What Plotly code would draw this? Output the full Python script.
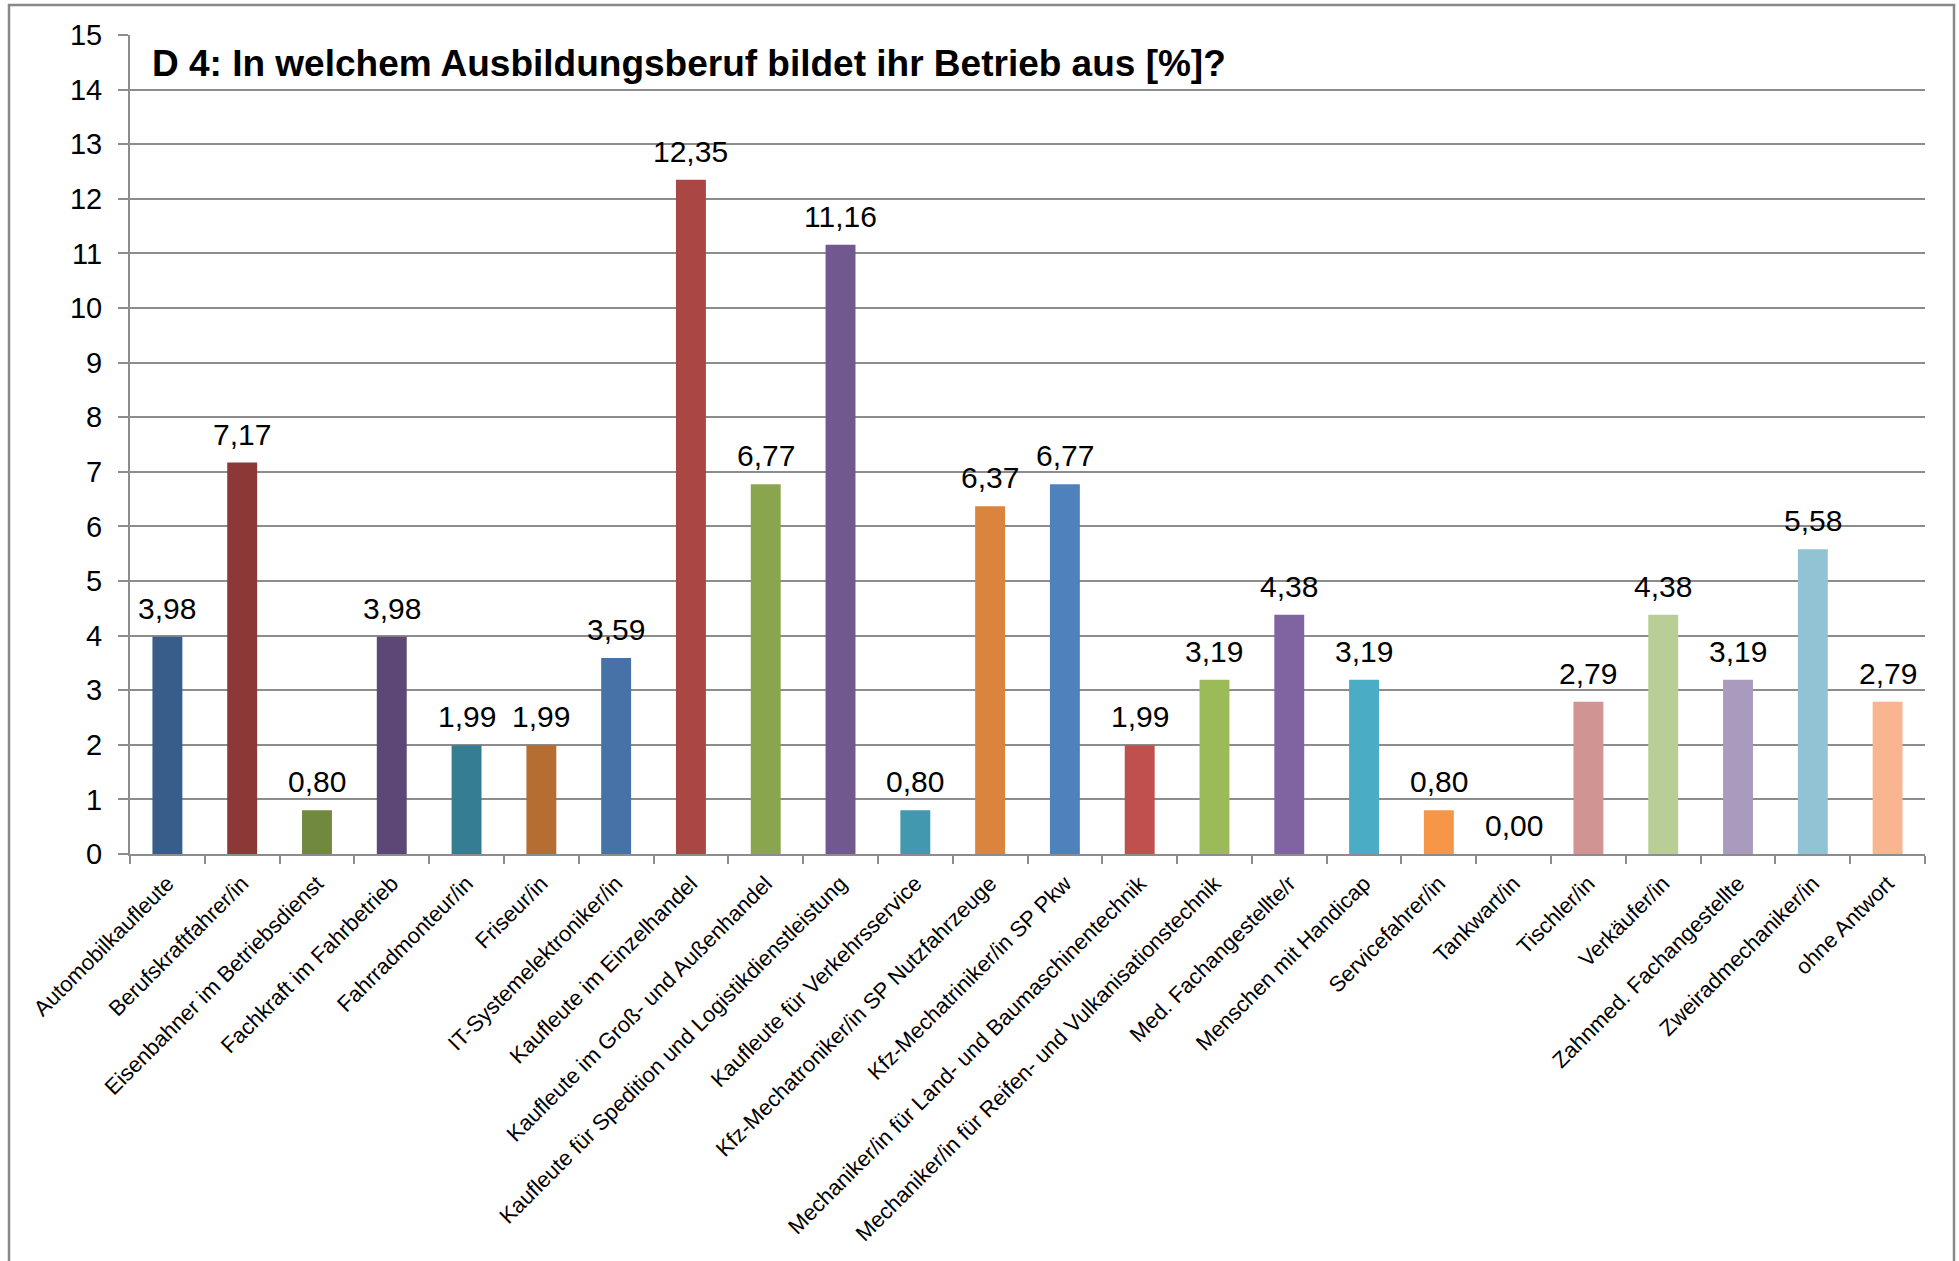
import plotly.graph_objects as go

berufe = [
    "Automobilkaufleute",
    "Berufskraftfahrer/in",
    "Eisenbahner im Betriebsdienst",
    "Fachkraft im Fahrbetrieb",
    "Fahrradmonteur/in",
    "Friseur/in",
    "IT-Systemelektroniker/in",
    "Kaufleute im Einzelhandel",
    "Kaufleute im Groß- und Außenhandel",
    "Kaufleute für Spedition und Logistikdienstleistung",
    "Kaufleute für Verkehrsservice",
    "Kfz-Mechatroniker/in SP Nutzfahrzeuge",
    "Kfz-Mechatriniker/in SP Pkw",
    "Mechaniker/in für Land- und Baumaschinentechnik",
    "Mechaniker/in für Reifen- und Vulkanisationstechnik",
    "Med. Fachangestellte/r",
    "Menschen mit Handicap",
    "Servicefahrer/in",
    "Tankwart/in",
    "Tischler/in",
    "Verkäufer/in",
    "Zahnmed. Fachangestellte",
    "Zweiradmechaniker/in",
    "ohne Antwort",
]

anteile = [3.98, 7.17, 0.80, 3.98, 1.99, 1.99, 3.59, 12.35, 6.77, 11.16, 0.80, 6.37,
           6.77, 1.99, 3.19, 4.38, 3.19, 0.80, 0.00, 2.79, 4.38, 3.19, 5.58, 2.79]

farben = ["#385D8A", "#8C3836", "#71893F", "#5C4776", "#357D91", "#B66D31",
          "#4672A8", "#AA4643", "#89A54E", "#71588F", "#4198AF", "#DB843D",
          "#4F81BD", "#C0504D", "#9BBB59", "#8064A2", "#4BACC6", "#F79646",
          "#95B3D7", "#D09493", "#B9CD96", "#A99BBD", "#92C3D4", "#F9B590"]

y_ticks = list(range(0, 16))

titel = "D 4: In welchem Ausbildungsberuf bildet ihr Betrieb aus [%]?"

FONT = "Arial, Liberation Sans, sans-serif"
GRAU = "#8C8C8C"

# Plotbereich in Pixeln
W, H = 1959, 1261
L, R, T, B = 130, 34, 35, 407
pw = W - L - R
ph = H - T - B

fig = go.Figure()

fig.add_trace(go.Bar(
    x=berufe,
    y=anteile,
    marker=dict(color=farben, line=dict(width=0)),
    hoverinfo="x+y",
))

# Datenbeschriftungen
for b, v in zip(berufe, anteile):
    fig.add_annotation(
        x=b, y=v, xref="x", yref="y",
        text=f"{v:.2f}".replace(".", ","),
        showarrow=False, yanchor="bottom", yshift=10,
        font=dict(family=FONT, size=30, color="black"),
    )

# Titel
fig.add_annotation(
    x=(150 - L) / pw, y=(H - B - 64) / ph, xref="paper", yref="paper",
    text="<b>" + titel + "</b>", showarrow=False,
    xanchor="left", yanchor="middle",
    font=dict(family=FONT, size=37, color="black"),
)

# Rahmen um das Diagramm
fig.add_shape(
    type="rect", xref="paper", yref="paper",
    x0=(9 - L) / pw, x1=(1954 - L) / pw,
    y0=(H - B - 1300) / ph, y1=(H - B - 5) / ph,
    line=dict(color="#888888", width=2.5), fillcolor="rgba(0,0,0,0)",
    layer="below",
)

fig.update_layout(
    width=W, height=H,
    margin=dict(l=L, r=R, t=T, b=B),
    plot_bgcolor="white", paper_bgcolor="white",
    showlegend=False,
    bargap=0.6,
    xaxis=dict(
        type="category",
        tickangle=-45,
        tickson="boundaries",
        ticks="outside", ticklen=8, tickwidth=2, tickcolor=GRAU,
        showline=True, linecolor=GRAU, linewidth=2,
        showgrid=False,
        automargin=False,
        ticklabelstandoff=6,
        tickfont=dict(family=FONT, size=22, color="black"),
    ),
    yaxis=dict(
        range=[0, 15],
        tickvals=y_ticks,
        ticks="outside", ticklen=10, tickwidth=2, tickcolor=GRAU,
        showline=True, linecolor=GRAU, linewidth=2,
        showgrid=True, gridcolor=GRAU, gridwidth=2,
        zeroline=False,
        automargin=False,
        ticklabelstandoff=10,
        tickfont=dict(family=FONT, size=29, color="black"),
    ),
)

# Seitenrand des Browsers entfernen, damit das Diagramm bei (0,0) beginnt
fig.write_html("out.html", config={"displayModeBar": False},
               post_script="document.body.style.margin='0';")
